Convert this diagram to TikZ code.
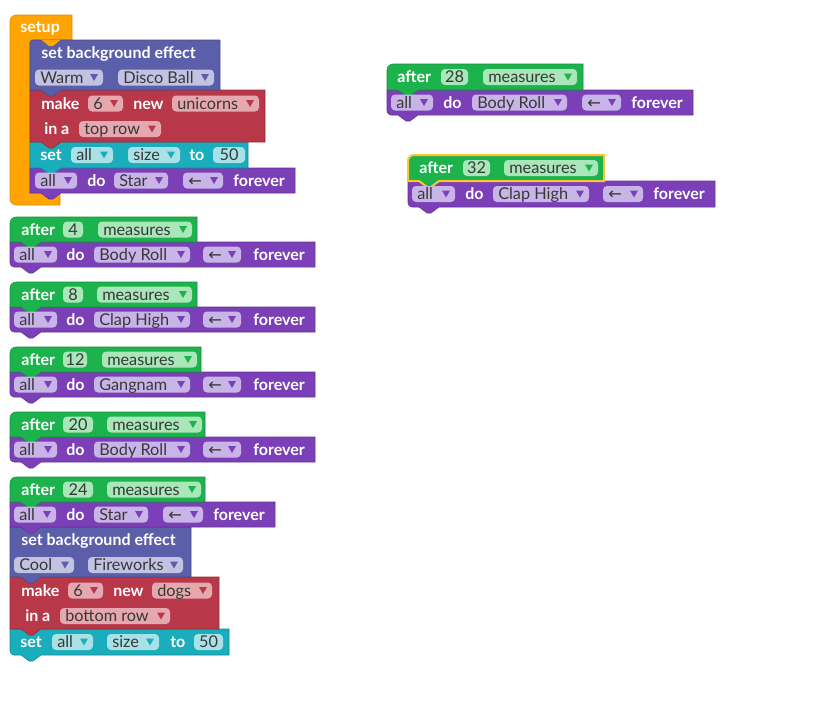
\documentclass[tikz,border=0pt]{standalone}
\usepackage{fontspec}
\setmainfont{Lato}
\newfontfamily\arrowfont{DejaVu Sans}
\definecolor{cOrange}{HTML}{FFA400}
\definecolor{cBg}{HTML}{5B5EA8}
\definecolor{cBgF}{HTML}{C2C3E2}
\definecolor{cRed}{HTML}{B8384A}
\definecolor{cRedF}{HTML}{E6A8AF}
\definecolor{cTeal}{HTML}{1AADBB}
\definecolor{cTealF}{HTML}{A8E1E6}
\definecolor{cPur}{HTML}{7B3FB8}
\definecolor{cPurF}{HTML}{C9B4E8}
\definecolor{cGrn}{HTML}{1DB34C}
\definecolor{cGrnF}{HTML}{A9E6B9}
\definecolor{cTxt}{HTML}{383838}
\definecolor{cHl}{HTML}{FFC52E}
\newcommand\lblfont{\fontsize{12}{14}\selectfont\bfseries}
\newcommand\fldfont{\fontsize{12.2}{14}\selectfont}
\tikzset{
  lbl/.style={text=white, font=\lblfont, anchor=base west, inner sep=0pt},
  ftxt/.style={text=cTxt, font=\fldfont, anchor=base west, inner sep=0pt},
  ftxtc/.style={text=cTxt, font=\fldfont, anchor=base, inner sep=0pt},
}
% block: #1 opts, #2 colour, #3 L, #4 T, #5 R, #6 B, #7 rTL, #8 rBL
\newcommand\blk[8][]{%
  \path[fill=#2, draw=#2!80!black, line width=0.4pt, #1]
  (#3,#4+#7) arc[start angle=180,end angle=270,radius=#7] -- (#5,#4) -- (#5,#6)
  -- (#3+31,#6) -- (#3+23,#6+6) -- (#3+19,#6+6) -- (#3+11,#6)
  -- (#3+#8,#6) arc[start angle=90,end angle=180,radius=#8] -- cycle;}
% field with arrow: fill, arrow colour, x1, x2, yc, text
\newcommand\fa[6]{%
  \fill[#1, rounded corners=3pt] (#3,#5-8) rectangle (#4,#5+8);
  \node[ftxt] at (#3+5,#5+5.5) {#6};
  \fill[#2] (#4-13,#5-3.5) -- (#4-5,#5-3.5) -- (#4-9,#5+3.5) -- cycle;}
% field without arrow
\newcommand\fn[5]{%
  \fill[#1, rounded corners=3pt] (#2,#4-8) rectangle (#3,#4+8);
  \node[ftxtc] at ({(#2+#3)/2},#4+5.5) {#5};}
\newcommand\lb[3]{\node[lbl] at (#1,#2+5.5) {#3};}
\newcommand\larr{{\arrowfont ←}}
\begin{document}
\begin{tikzpicture}[x=0.75pt,y=-0.75pt]
\useasboundingbox (0,0) rectangle (827,700);

% ===== setup =====
\path[fill=cOrange, draw=cOrange!85!black, line width=0.4pt] (10,21) arc[start angle=180,end angle=270,radius=6] -- (72,15) -- (72,40) -- (30,40) -- (30,193) -- (60,193) -- (60,205) -- (16,205) arc[start angle=90,end angle=180,radius=6] -- cycle;
\blk{cPur}{30}{168}{295}{193}{0.01}{0.01}
\blk{cTeal}{30}{142}{248}{168}{0.01}{0.01}
\blk{cRed}{30}{90}{265}{142}{0.01}{0.01}
\blk{cBg}{30}{40}{220}{90}{3}{0.01}
\fill[cOrange] (41,39.5) -- (61,39.5) -- (53,46) -- (49,46) -- cycle;
\lb{20}{27}{setup}
\lb{41}{52.5}{set background effect}
\fa{cBgF}{cBg}{35}{103}{77.5}{Warm}
\fa{cBgF}{cBg}{118}{214}{77.5}{Disco Ball}
\lb{41}{103.5}{make}
\fa{cRedF}{cRed}{88}{123}{103.5}{6}
\lb{133}{103.5}{new}
\fa{cRedF}{cRed}{172}{259}{103.5}{unicorns}
\lb{44}{129}{in a}
\fa{cRedF}{cRed}{79}{161}{129}{top row}
\lb{40}{155}{set}
\fa{cTealF}{cTeal}{71}{113}{155}{all}
\fa{cTealF}{cTeal}{128}{180}{155}{size}
\lb{189}{155}{to}
\fn{cTealF}{213}{245}{155}{50}
\fa{cPurF}{cPur}{35}{77}{180.5}{all}
\lb{87}{180.5}{do}
\fa{cPurF}{cPur}{114}{168}{180.5}{Star}
\fa{cPurF}{cPur}{183}{223}{180.5}{\larr}
\lb{233}{180.5}{forever}

% ===== after 4 =====
\blk{cPur}{10}{242}{315}{267}{0.01}{4}
\blk{cGrn}{10}{217}{197}{242}{6}{0.01}
\lb{21}{229.5}{after}
\fn{cGrnF}{63}{83}{229.5}{4}
\fa{cGrnF}{cGrn}{98}{192}{229.5}{measures}
\fa{cPurF}{cPur}{14}{57}{254.5}{all}
\lb{66}{254.5}{do}
\fa{cPurF}{cPur}{94}{190}{254.5}{Body Roll}
\fa{cPurF}{cPur}{203}{241}{254.5}{\larr}
\lb{253}{254.5}{forever}

% ===== after 8 =====
\blk{cPur}{10}{307}{315}{332}{0.01}{4}
\blk{cGrn}{10}{282}{197}{307}{6}{0.01}
\lb{21}{294.5}{after}
\fn{cGrnF}{63}{83}{294.5}{8}
\fa{cGrnF}{cGrn}{97}{192}{294.5}{measures}
\fa{cPurF}{cPur}{14}{57}{319.5}{all}
\lb{66}{319.5}{do}
\fa{cPurF}{cPur}{94}{190}{319.5}{Clap High}
\fa{cPurF}{cPur}{203}{241}{319.5}{\larr}
\lb{253}{319.5}{forever}

% ===== after 12 =====
\blk{cPur}{10}{372}{315}{397}{0.01}{4}
\blk{cGrn}{10}{347}{201}{372}{6}{0.01}
\lb{21}{359.5}{after}
\fn{cGrnF}{63}{87}{359.5}{12}
\fa{cGrnF}{cGrn}{102}{197}{359.5}{measures}
\fa{cPurF}{cPur}{14}{57}{384.5}{all}
\lb{66}{384.5}{do}
\fa{cPurF}{cPur}{94}{190}{384.5}{Gangnam}
\fa{cPurF}{cPur}{203}{241}{384.5}{\larr}
\lb{253}{384.5}{forever}

% ===== after 20 =====
\blk{cPur}{10}{437}{315}{462}{0.01}{4}
\blk{cGrn}{10}{412}{205}{437}{6}{0.01}
\lb{21}{424.5}{after}
\fn{cGrnF}{63}{93}{424.5}{20}
\fa{cGrnF}{cGrn}{107}{202}{424.5}{measures}
\fa{cPurF}{cPur}{14}{57}{449.5}{all}
\lb{66}{449.5}{do}
\fa{cPurF}{cPur}{94}{190}{449.5}{Body Roll}
\fa{cPurF}{cPur}{203}{241}{449.5}{\larr}
\lb{253}{449.5}{forever}

% ===== after 24 stack =====
\blk{cTeal}{10}{629}{229}{655}{0.01}{4}
\blk{cRed}{10}{577}{219}{629}{0.01}{0.01}
\blk{cBg}{10}{527}{191}{577}{0.01}{0.01}
\blk{cPur}{10}{502}{275}{527}{0.01}{0.01}
\blk{cGrn}{10}{477}{205}{502}{6}{0.01}
\lb{21}{489.5}{after}
\fn{cGrnF}{63}{93}{489.5}{24}
\fa{cGrnF}{cGrn}{107}{201}{489.5}{measures}
\fa{cPurF}{cPur}{14}{56}{514.5}{all}
\lb{66}{514.5}{do}
\fa{cPurF}{cPur}{94}{148}{514.5}{Star}
\fa{cPurF}{cPur}{163}{203}{514.5}{\larr}
\lb{213}{514.5}{forever}
\lb{21}{540}{set background effect}
\fa{cBgF}{cBg}{14}{74}{565}{Cool}
\fa{cBgF}{cBg}{88}{183}{565}{Fireworks}
\lb{21}{590.5}{make}
\fa{cRedF}{cRed}{68}{103}{590.5}{6}
\lb{113}{590.5}{new}
\fa{cRedF}{cRed}{152}{212}{590.5}{dogs}
\lb{25}{616}{in a}
\fa{cRedF}{cRed}{60}{170}{616}{bottom row}
\lb{20}{642}{set}
\fa{cTealF}{cTeal}{52}{93}{642}{all}
\fa{cTealF}{cTeal}{107}{159}{642}{size}
\lb{170}{642}{to}
\fn{cTealF}{194}{223}{642}{50}

% ===== after 28 =====
\blk{cPur}{387}{90}{693}{115}{0.01}{4}
\blk{cGrn}{387}{64}{583}{90}{6}{0.01}
\lb{397}{77}{after}
\fn{cGrnF}{441}{468}{77}{28}
\fa{cGrnF}{cGrn}{483}{577}{77}{measures}
\fa{cPurF}{cPur}{391}{433}{102.5}{all}
\lb{443}{102.5}{do}
\fa{cPurF}{cPur}{472}{567}{102.5}{Body Roll}
\fa{cPurF}{cPur}{582}{621}{102.5}{\larr}
\lb{631}{102.5}{forever}

% ===== after 32 (selected) =====
\blk{cPur}{408}{181}{715}{207}{0.01}{4}
\blk[draw=cHl, line width=1.5pt]{cGrn}{408}{155}{604}{181}{6}{0.01}
\lb{419}{168}{after}
\fn{cGrnF}{463}{490}{168}{32}
\fa{cGrnF}{cGrn}{504}{598}{168}{measures}
\fa{cPurF}{cPur}{412}{455}{194}{all}
\lb{465}{194}{do}
\fa{cPurF}{cPur}{493}{589}{194}{Clap High}
\fa{cPurF}{cPur}{603}{643}{194}{\larr}
\lb{653}{194}{forever}
\end{tikzpicture}
\end{document}
